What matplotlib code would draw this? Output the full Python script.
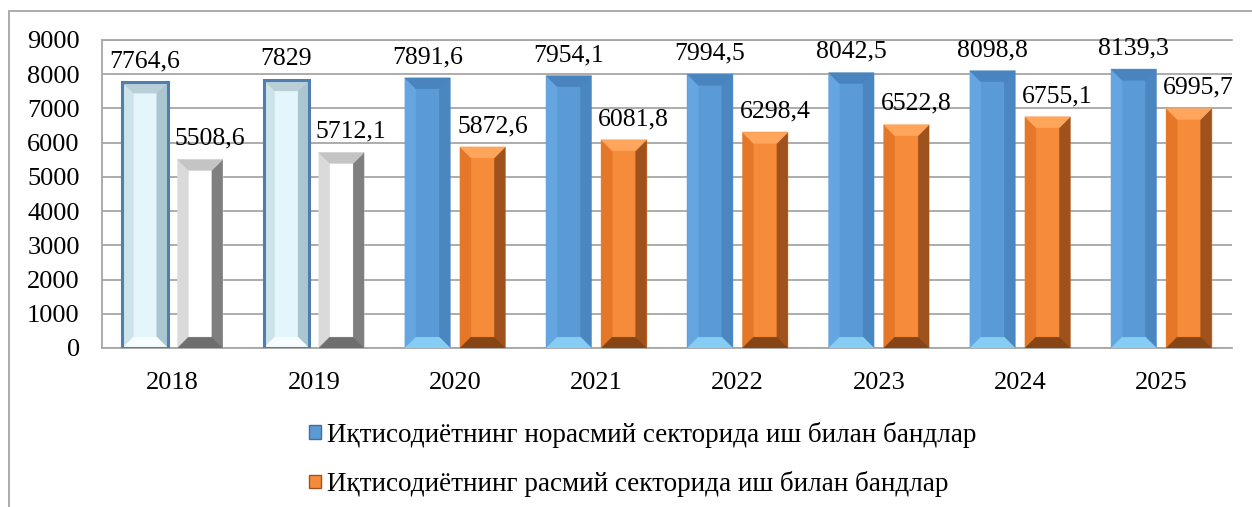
import matplotlib
matplotlib.use("Agg")
import matplotlib.pyplot as plt
from matplotlib.patches import Polygon, Rectangle
import numpy as np

years = ["2018", "2019", "2020", "2021", "2022", "2023", "2024", "2025"]
informal = [7764.6, 7829, 7891.6, 7954.1, 7994.5, 8042.5, 8098.8, 8139.3]
formal = [5508.6, 5712.1, 5872.6, 6081.8, 6298.4, 6522.8, 6755.1, 6995.7]
informal_labels = ["7764,6", "7829", "7891,6", "7954,1", "7994,5", "8042,5", "8098,8", "8139,3"]
formal_labels = ["5508,6", "5712,1", "5872,6", "6081,8", "6298,4", "6522,8", "6755,1", "6995,7"]
legend_labels = ["Иқтисодиётнинг норасмий секторида иш билан бандлар",
                 "Иқтисодиётнинг расмий секторида иш билан бандлар"]
yticks = [0, 1000, 2000, 3000, 4000, 5000, 6000, 7000, 8000, 9000]

plt.rcParams['font.family'] = ['Liberation Serif', 'DejaVu Serif']

W, H = 1252, 507
fig = plt.figure(figsize=(W / 100, H / 100), dpi=100)
ax = fig.add_axes([102 / W, 1 - 348 / H, (1232 - 102) / W, (348 - 40) / H])

x = np.arange(len(years))
bw = 0.32
off = 0.195

# styles: face, left, right, top, bottom, edge
blue = dict(face="#5B9BD5", left="#66A6E0", right="#4A86C0", top="#4A84BE", bottom="#86CDF4", edge="none")
orange = dict(face="#F68C3A", left="#E57828", right="#A0521C", top="#FFA65C", bottom="#874516", edge="none")
pale = dict(face="#E4F6FB", left="#CDE3EA", right="#A9C6D1", top="#B9CED7", bottom="#F7FDFF", edge="#4F7FAF")
gray = dict(face="#FFFFFF", left="#DADADA", right="#7F7F7F", top="#C4C4C4", bottom="#6E6E6E", edge="none")

ax.set_xlim(-0.5, len(years) - 0.5)
ax.set_ylim(0, 9000)

bars_i = ax.bar(x - off, informal, bw, color="none", zorder=3)
bars_f = ax.bar(x + off, formal, bw, color="none", zorder=3)

fig.canvas.draw()
px_x = (ax.get_xlim()[1] - ax.get_xlim()[0]) / (ax.get_window_extent().width)
px_y = (ax.get_ylim()[1] - ax.get_ylim()[0]) / (ax.get_window_extent().height)


def bevel(patch, st):
    x0 = patch.get_x()
    w = patch.get_width()
    h = patch.get_height()
    x1 = x0 + w
    wpx = w / px_x
    d = 0.24 * wpx
    dx, dy = d * px_x, d * px_y
    polys = [
        ([(x0, 0), (x1, 0), (x1, h), (x0, h)], st["face"]),
        ([(x0, 0), (x0 + dx, dy), (x0 + dx, h - dy), (x0, h)], st["left"]),
        ([(x1, 0), (x1 - dx, dy), (x1 - dx, h - dy), (x1, h)], st["right"]),
        ([(x0, h), (x1, h), (x1 - dx, h - dy), (x0 + dx, h - dy)], st["top"]),
        ([(x0, 0), (x1, 0), (x1 - dx, dy), (x0 + dx, dy)], st["bottom"]),
    ]
    for pts, c in polys:
        ax.add_patch(Polygon(pts, closed=True, facecolor=c, edgecolor=c, linewidth=0.3, zorder=3))
    if st["edge"] != "none":
        ax.add_patch(Rectangle((x0, 0), w, h, facecolor="none", edgecolor=st["edge"], linewidth=2.2, zorder=4))


for i, (pi, pf) in enumerate(zip(bars_i, bars_f)):
    bevel(pi, pale if i < 2 else blue)
    bevel(pf, gray if i < 2 else orange)

for i in range(len(years)):
    ax.annotate(informal_labels[i], (x[i] - off, informal[i]), xytext=(0, 15), textcoords="offset points",
                ha="center", va="center", fontsize=18.5, zorder=5, annotation_clip=False)
    ax.annotate(formal_labels[i], (x[i] + off, formal[i]), xytext=(7, 15), textcoords="offset points",
                ha="center", va="center", fontsize=18.5, zorder=5, annotation_clip=False)

ax.set_yticks(yticks)
ax.set_yticklabels([str(v) for v in yticks], fontsize=19)
ax.set_xticks(x)
ax.set_xticklabels(years, fontsize=19)
ax.tick_params(axis="both", length=0)
ax.tick_params(axis="y", pad=16)
ax.tick_params(axis="x", pad=17)
ax.grid(axis="y", color="#A6A6A6", linewidth=1.3, zorder=1)
ax.set_axisbelow(True)
ax.spines["right"].set_visible(False)
for s in ["left", "bottom", "top"]:
    ax.spines[s].set_color("#A6A6A6")
    ax.spines[s].set_linewidth(1.3)

# legend
handles = [Rectangle((0, 0), 1, 1, facecolor=blue["face"], edgecolor="#3E6FA0"),
           Rectangle((0, 0), 1, 1, facecolor=orange["face"], edgecolor="#A0521C")]
fig.legend(handles, legend_labels, loc="upper left", bbox_to_anchor=(309 / W, 1 - 422 / H),
           frameon=False, fontsize=19.5, handlelength=0.45, handleheight=0.4, handletextpad=0.22,
           labelspacing=0.85, borderaxespad=0, borderpad=0)

# outer chart frame
fig.patches.append(Rectangle((9 / W, -0.1), 1.2, 1 - 11 / H + 0.1, transform=fig.transFigure,
                             facecolor="none", edgecolor="#A6A6A6", linewidth=1.3, zorder=0))

fig.savefig("out.png", dpi=100)
